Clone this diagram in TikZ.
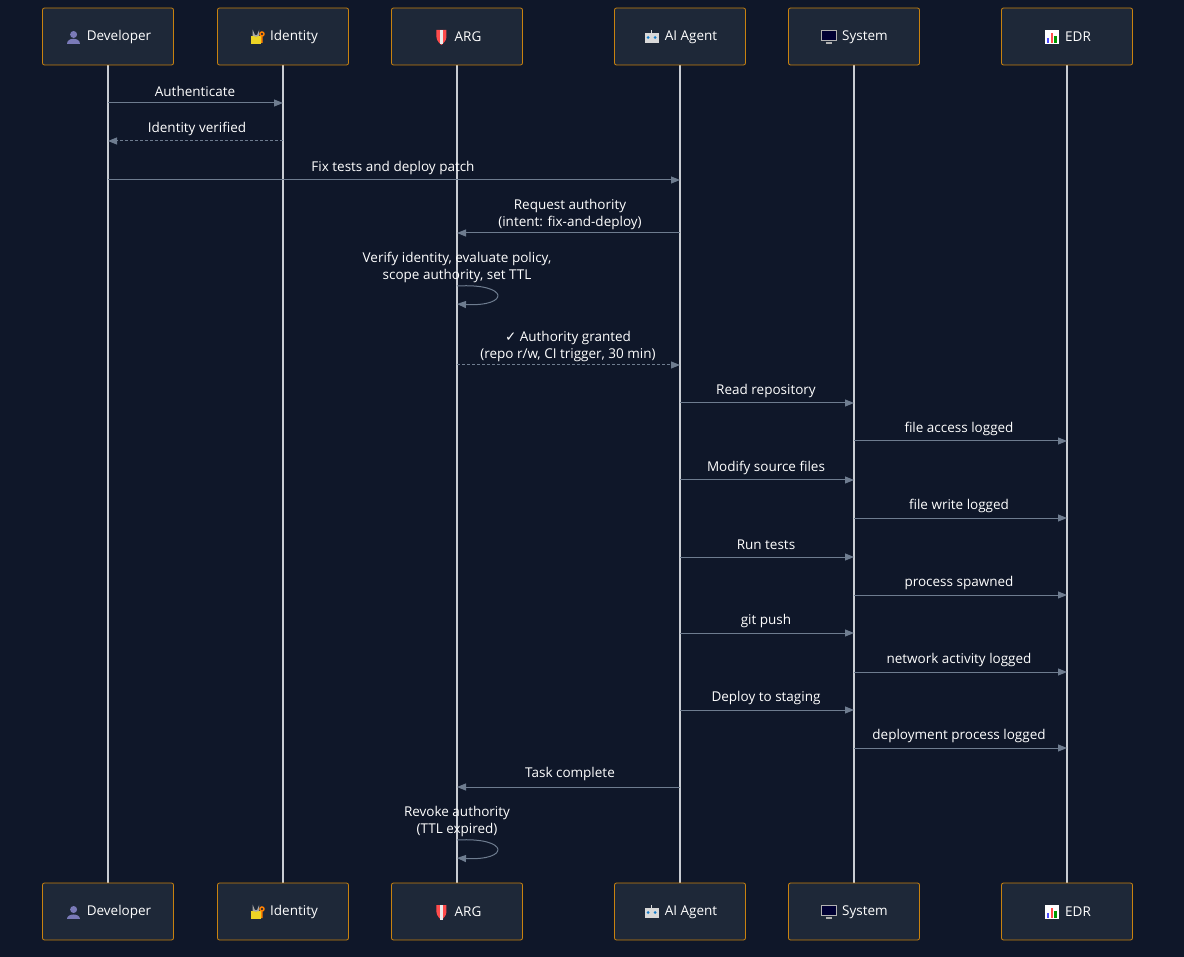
\documentclass[tikz,border=0pt]{standalone}
\usepackage{fontspec}
\setmainfont{Open Sans}
\usetikzlibrary{arrows.meta}
\definecolor{bg}{HTML}{0F1729}
\definecolor{boxfill}{HTML}{1E2838}
\definecolor{boxline}{HTML}{C8820F}
\definecolor{life}{HTML}{C8CCD2}
\definecolor{msg}{HTML}{6E7C8F}
\newcommand\ff{\fontsize{13.5}{17}\selectfont}
\begin{document}
\begin{tikzpicture}[x=1pt,y=-1pt,
  actor/.style={draw=boxline,fill=boxfill,rounded corners=2pt,minimum width=131pt,minimum height=57pt,line width=0.8pt},
  lifeline/.style={life,line width=1.2pt},
  m/.style={msg,line width=1pt,-{Triangle[length=9pt,width=7pt]}},
  r/.style={m,dash pattern=on 3pt off 2pt},
  lab/.style={text=white,font=\ff,align=center,inner sep=0pt}]
\fill[bg] (0,0) rectangle (1184,957);
\useasboundingbox (0,0) rectangle (1184,957);
% icons
\tikzset{
 iperson/.pic={\fill[blue!30!gray!80] (0,-2.5) circle (3.5); \fill[blue!30!gray!80] (-6.5,7) .. controls (-6.5,0.5) and (6.5,0.5) .. (6.5,7) -- cycle;},
 ilock/.pic={\fill[yellow!70!brown] (-6,-1) rectangle (4,7); \draw[gray!70,line width=1.5pt] (-3.5,-1) -- (-3.5,-3.5) arc (180:0:2.5) -- (1.5,-1); \draw[orange,line width=1.5pt] (5,-3) circle (2) (5,-1)--(5,6);},
 ishield/.pic={\fill[red!70!white] (-5,-7) -- (5,-7) -- (5,0) .. controls (5,4) and (1,7) .. (0,8) .. controls (-1,7) and (-5,4) .. (-5,0) -- cycle; \fill[white!85!gray] (-1.2,-7) rectangle (1.2,7.5);},
 irobot/.pic={\fill[gray!30] (-7,-4) rectangle (7,6); \fill[cyan!60!blue] (-3.5,0.5) circle (1.6) (3.5,0.5) circle (1.6); \draw[gray!30,line width=1pt] (0,-4)--(0,-7);},
 imonitor/.pic={\fill[gray!60] (-8,-7) rectangle (8,4); \fill[black!80!blue] (-7,-6) rectangle (7,3); \fill[gray!60] (-3,5) rectangle (3,7);},
 ichart/.pic={\fill[white] (-7,-7) rectangle (7,7); \fill[blue!70] (-5,1) rectangle (-2.5,6); \fill[red!70] (-1.2,-4) rectangle (1.2,6); \fill[green!60!black] (2.5,-1) rectangle (5,6);},
}
\foreach \n/\x/\t/\ic in {dev/108/Developer/iperson,idn/283/Identity/ilock,arg/457/ARG/ishield,ai/680/AI Agent/irobot,sys/854/System/imonitor,edr/1067/EDR/ichart}{
  \draw[lifeline] (\x,65) -- (\x,883);
  \node[actor] (\n t) at (\x,36.5) {};
  \node[actor] (\n b) at (\x,911.5) {};
  \node[lab] (\n tt) at (\x+11,37) {\t};
  \node[lab] (\n bt) at (\x+11,912) {\t};
  \path (\n tt.west) ++(-13,0) pic{\ic};
  \path (\n bt.west) ++(-13,0) pic{\ic};
}
\foreach \n/\x in {dev/108,idn/283,arg/457,ai/680,sys/854,edr/1067}{
 \foreach \y in {103,141,180,233,286,304,365,403,441,480,518,557,595,633,672,710,748,787,840,858}{
   \coordinate (\n\y) at (\x,\y);}}
\draw[m] (dev103) -- (idn103); \node[lab] at (195,91) {Authenticate};
\draw[r] (idn141) -- (dev141); \node[lab] at (197,129) {Identity verified};
\draw[m] (dev180) -- (ai180); \node[lab] at (393,168) {Fix tests and deploy patch};
\draw[m] (ai233) -- (arg233); \node[lab] at (570,214) {Request authority\\(intent: fix-and-deploy)};
\draw[m] (arg286) .. controls (510,283) and (510,307) .. (arg304);
\node[lab] at (457,267) {Verify identity, evaluate policy,\\scope authority, set TTL};
\draw[r] (arg365) -- (ai365); \node[lab] at (568,346) {{\fontspec{DejaVu Sans}✓} Authority granted\\(repo r/w, CI trigger, 30 min)};
\foreach \y/\t in {403/Read repository,480/Modify source files,557/Run tests,633/git push,710/Deploy to staging}{
  \draw[m] (ai\y) -- (sys\y); \node[lab] at (766,\y-12) {\t};}
\foreach \y/\t in {441/file access logged,518/file write logged,595/process spawned,672/network activity logged,748/deployment process logged}{
  \draw[m] (sys\y) -- (edr\y); \node[lab] at (959,\y-12) {\t};}
\draw[m] (ai787) -- (arg787); \node[lab] at (570,774) {Task complete};
\draw[m] (arg840) .. controls (510,837) and (510,861) .. (arg858);
\node[lab] at (457,821) {Revoke authority\\(TTL expired)};
\end{tikzpicture}
\end{document}
